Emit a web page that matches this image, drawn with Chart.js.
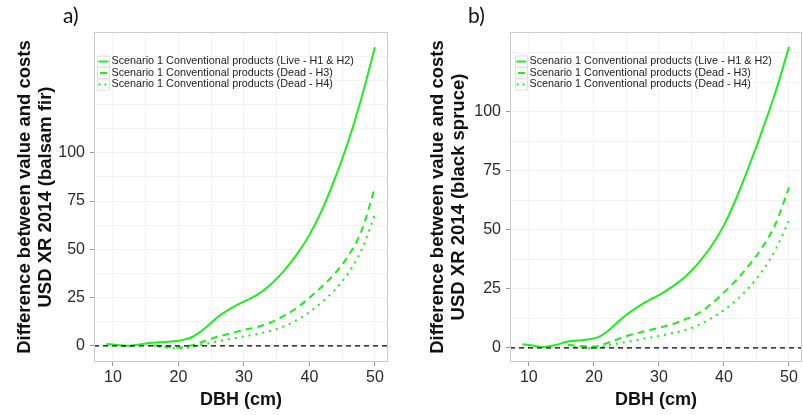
<!DOCTYPE html>
<html>
<head>
<meta charset="utf-8">
<script src="https://cdn.jsdelivr.net/npm/chart.js@4.4.1/dist/chart.umd.min.js"></script>
<style>
  body { margin: 0; background: #fff; }
  canvas { position: absolute; top: 0; }
</style>
</head>
<body>
<canvas id="ca" width="400" height="415" style="left:0"></canvas>
<canvas id="cb" width="403" height="415" style="left:400px"></canvas>
<script>
// DBH (cm) sampled along the curves
const dbh = [9, 10, 12, 14, 16, 17, 18, 20, 21, 22, 23, 24, 25, 26, 28, 30, 32, 34, 36, 38, 40, 42, 44, 46, 48, 50];

// a) balsam fir
const firLive = [1.0, 0.7, 0.1, 0.8, 1.7, 1.9, 2.1, 2.7, 3.4, 4.5, 6.5, 9, 12, 15, 19.5, 23, 26.4, 31.6, 38.5, 47, 57.5, 71, 87.6, 106.6, 129, 154.6];
const firDeadH3 = [null, null, null, null, 0.3, 0.1, -0.3, -0.8, -0.5, 0.3, 1.3, 2.6, 3.8, 4.8, 6.6, 8.3, 9.8, 12, 15.5, 19.5, 25, 31, 38, 47, 60, 82];
const firDeadH4 = [null, null, null, null, null, -0.5, -0.8, -1.3, -1.2, -0.5, 0.3, 1.0, 1.7, 2.4, 3.7, 5, 6.2, 7.8, 10, 13.2, 17.5, 23, 29.5, 38, 50, 68];

// b) black spruce
const spruceLive = [1.5, 1.2, 0.4, 1.1, 2.7, 3, 3.2, 4, 5, 6.8, 9.2, 11.7, 14, 16, 19.5, 22.3, 25.8, 30, 35.7, 42.8, 52, 64, 78, 93, 109, 127.5];
const spruceDeadH3 = [null, null, null, null, 1.3, 1.0, 0.8, 0.6, 1, 2, 3, 4, 5, 5.8, 7.2, 8.5, 10, 12, 14.5, 18.5, 23.5, 29, 35.5, 43, 53, 68];
const spruceDeadH4 = [null, null, null, null, null, 0.3, 0, -0.2, 0.3, 1, 1.5, 2, 2.5, 3, 4, 5, 6.2, 7.5, 9.5, 12.5, 16, 20.5, 26, 33, 42, 54];

const seriesLabels = [
  'Scenario 1 Conventional products (Live - H1 & H2)',
  'Scenario 1 Conventional products (Dead - H3)',
  'Scenario 1 Conventional products (Dead - H4)'
];
const xTickLabels = [10, 20, 30, 40, 50];
const xGrid = [10, 15, 20, 25, 30, 35, 40, 45, 50];
const yTickLabels = [0, 25, 50, 75, 100];
const yGridA = [0, 12.5, 25, 37.5, 50, 62.5, 75, 87.5, 100, 112.5, 125, 137.5, 150];
const yGridB = [0, 12.5, 25, 37.5, 50, 62.5, 75, 87.5, 100, 112.5, 125];

const GREEN = '#1eee1e';
const dashes = [[], [7, 5], [2, 5]];

function pts(ys) {
  return dbh.map((x, i) => ({ x: x, y: ys[i] })).filter(p => p.y !== null);
}

const panelPlugin = {
  id: 'panel',
  afterDatasetsDraw(chart, args, o) {
    const { ctx, chartArea: a, scales } = chart;
    // zero line
    const y0 = scales.y.getPixelForValue(0);
    ctx.save();
    ctx.strokeStyle = '#000';
    ctx.lineWidth = 1.2;
    ctx.setLineDash([5, 4]);
    ctx.beginPath();
    ctx.moveTo(a.left, y0);
    ctx.lineTo(a.right, y0);
    ctx.stroke();
    ctx.restore();
  },
  afterDraw(chart, args, o) {
    const { ctx, chartArea: a } = chart;
    ctx.save();
    ctx.strokeStyle = '#cccccc';
    ctx.lineWidth = 1;
    ctx.strokeRect(a.left + 0.5, a.top + 0.5, a.right - a.left - 1, a.bottom - a.top - 1);

    // legend
    const kx = a.left + o.legendDx;
    const rows = [61.5, 73, 84.5];
    ctx.font = '10.8px "Liberation Sans", Arial, sans-serif';
    ctx.textBaseline = 'middle';
    chart.data.datasets.forEach((ds, i) => {
      const ry = rows[i];
      ctx.strokeStyle = '#e2e2e2';
      ctx.lineWidth = 1;
      ctx.setLineDash([]);
      ctx.strokeRect(kx + 0.5, ry - 5.5, 12, 11);
      ctx.strokeStyle = ds.borderColor;
      ctx.lineWidth = 2;
      ctx.setLineDash(i === 2 ? [2, 4] : []);
      ctx.beginPath();
      ctx.moveTo(i === 1 ? kx + 3 : kx + 1.5, ry);
      ctx.lineTo(i === 1 ? kx + 10 : kx + 11.5, ry);
      ctx.stroke();
      ctx.fillStyle = '#222';
      ctx.fillText(ds.label, kx + 14.5, ry);
    });

    // panel letter
    ctx.font = '21px Lato, "Open Sans", sans-serif';
    ctx.fillStyle = '#111';
    ctx.textBaseline = 'middle';
    ctx.fillText(o.letter, o.letterX, 16);
    ctx.restore();
  }
};

function makePanel(id, letter, letterX, species, live, h3, h4, yMin, yMax, yGrid, yWidth, rightPad, yTitlePad, legendDx) {
  const sets = [live, h3, h4];
  new Chart(document.getElementById(id), {
    type: 'line',
    data: {
      datasets: sets.map((s, i) => ({
        label: seriesLabels[i],
        data: pts(s),
        borderColor: GREEN,
        borderWidth: 2,
        borderDash: dashes[i],
        pointRadius: 0,
        cubicInterpolationMode: 'monotone',
        fill: false
      }))
    },
    options: {
      responsive: false,
      animation: false,
      devicePixelRatio: 1,
      layout: { padding: { left: 0, right: rightPad, top: 32, bottom: 0 } },
      plugins: {
        legend: { display: false },
        tooltip: { enabled: false },
        panel: { letter: letter, letterX: letterX, legendDx: legendDx }
      },
      scales: {
        x: {
          type: 'linear',
          min: 7.1,
          max: 52,
          afterBuildTicks: s => { s.ticks = xGrid.map(v => ({ value: v })); },
          afterFit: s => { s.height = 53; },
          border: { display: false },
          grid: {
            color: '#f3f3f3',
            tickLength: 4,
            tickColor: c => xTickLabels.includes(c.tick.value) ? '#999' : 'rgba(0,0,0,0)'
          },
          ticks: {
            padding: 2,
            color: '#2a2a2a',
            font: { family: '"Liberation Sans", Arial, sans-serif', size: 16 },
            maxRotation: 0,
            autoSkip: false,
            callback: v => xTickLabels.includes(v) ? String(v) : ''
          },
          title: {
            display: true,
            text: 'DBH (cm)',
            color: '#111',
            font: { family: '"Liberation Sans", Arial, sans-serif', size: 18, weight: 'bold' },
            padding: { top: 0, bottom: 4 }
          }
        },
        y: {
          type: 'linear',
          min: yMin,
          max: yMax,
          afterBuildTicks: s => { s.ticks = yGrid.map(v => ({ value: v })); },
          afterFit: s => { s.width = yWidth; },
          border: { display: false },
          grid: {
            color: '#f3f3f3',
            tickLength: 4,
            tickColor: c => yTickLabels.includes(c.tick.value) ? '#999' : 'rgba(0,0,0,0)'
          },
          ticks: {
            padding: 5,
            color: '#2a2a2a',
            font: { family: '"Liberation Sans", Arial, sans-serif', size: 16 },
            autoSkip: false,
            callback: v => yTickLabels.includes(v) ? String(v) : ''
          },
          title: {
            display: true,
            text: ['Difference between value and costs', 'USD XR 2014 (' + species + ')'],
            color: '#111',
            font: { family: '"Liberation Sans", Arial, sans-serif', size: 18.5, weight: 'bold', lineHeight: 1.1 },
            padding: { top: yTitlePad, bottom: 0 }
          }
        }
      }
    },
    plugins: [panelPlugin]
  });
}

makePanel('ca', 'a)', 63, 'balsam fir', firLive, firDeadH3, firDeadH4, -8.3, 162.5, yGridA, 94, 12, 15, 3);
makePanel('cb', 'b)', 68, 'black spruce', spruceLive, spruceDeadH3, spruceDeadH4, -6, 133.8, yGridB, 110, 1, 28, 5);
</script>
</body>
</html>
